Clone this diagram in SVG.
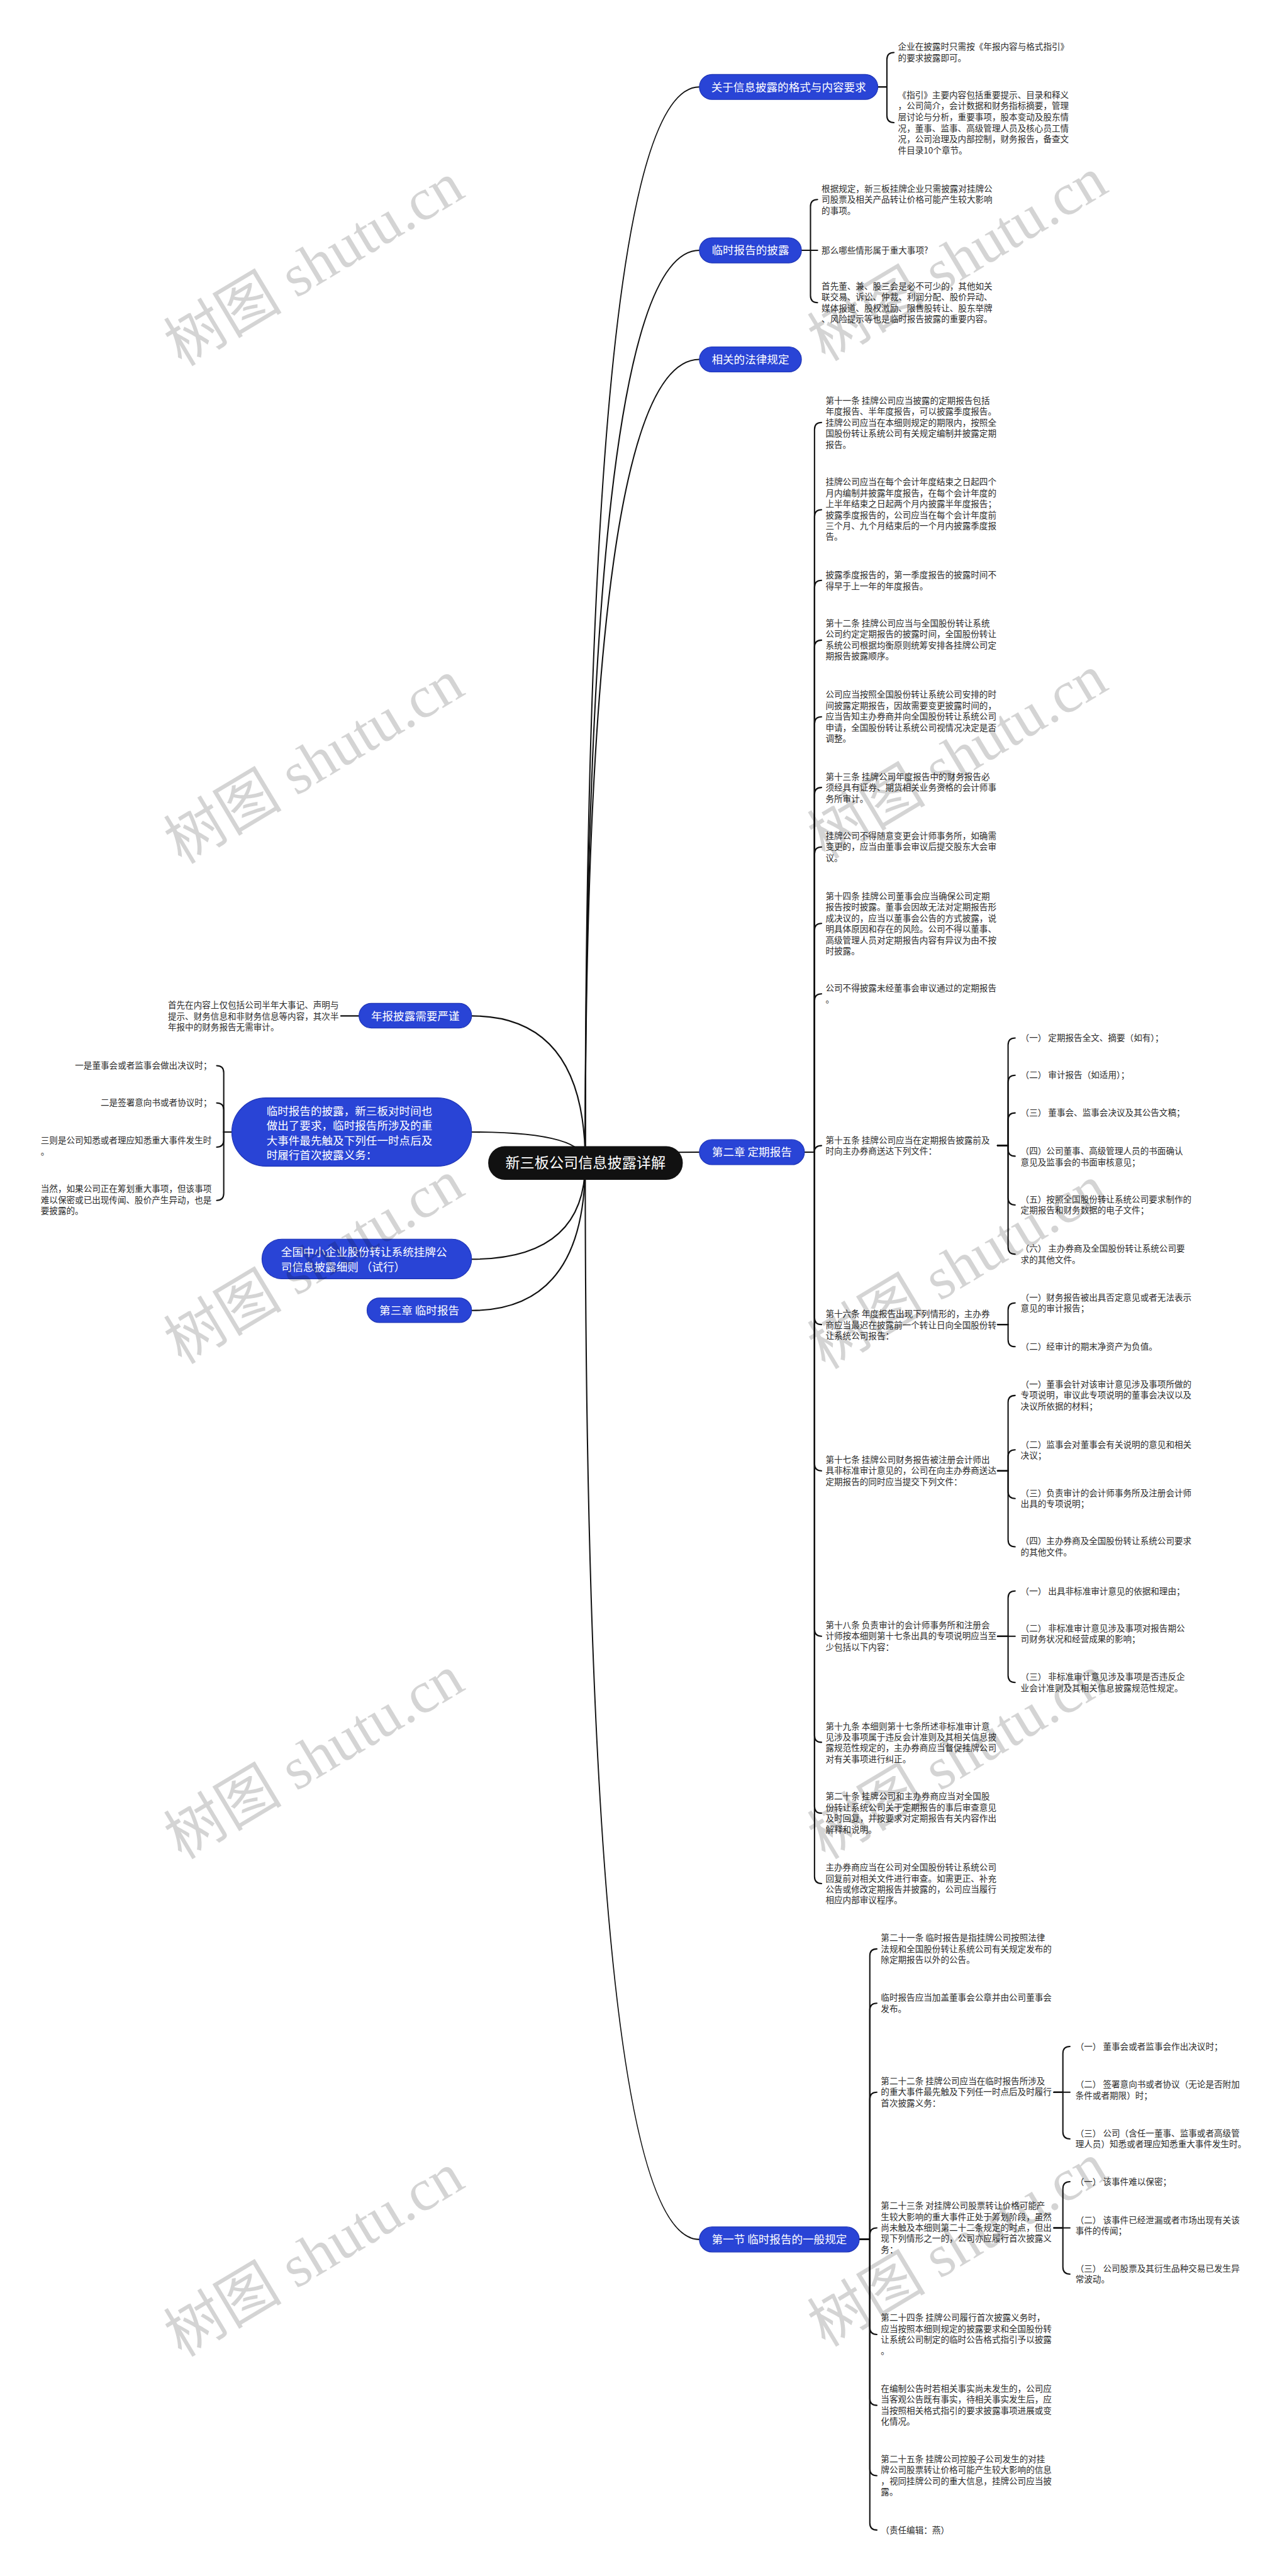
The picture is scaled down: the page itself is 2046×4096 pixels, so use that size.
<svg xmlns="http://www.w3.org/2000/svg" width="2046" height="4096" viewBox="0 0 2046 4096">
<style>
.bg{fill:#ffffff}
.ln{fill:none;stroke:#111111;stroke-width:2.6;stroke-linecap:round}
.nb{fill:#2944D6;stroke:#1D33B5;stroke-width:1.5}
.nc{fill:#111111}
.tn{font-family:"Noto Sans CJK SC","Noto Sans",sans-serif;font-size:22px;fill:#ffffff}
.tc{font-family:"Noto Sans CJK SC","Noto Sans",sans-serif;font-size:29px;fill:#ffffff}
.t{font-family:"Noto Sans CJK SC","Noto Sans",sans-serif;font-size:17px;fill:#2b2b2b}
.wm{font-family:"Liberation Serif","Noto Sans CJK SC",serif;font-size:118px;fill:#000000;fill-opacity:0.17}
</style>
<rect class="bg" x="0" y="0" width="2046" height="4096"/>
<g transform="scale(0.7993)">
<g id="connectors">
<path class="ln" d="M1164 2313 Q1164 173 1391 173"/>
<path class="ln" d="M1164 2313 Q1164 498 1391 498"/>
<path class="ln" d="M1164 2313 Q1164 715 1391 715"/>
<path class="ln" d="M1164 2313 Q1164 2292 1391 2292"/>
<path class="ln" d="M1164 2313 Q1164 4455 1391 4455"/>
<path class="ln" d="M1164 2313 Q1164 2021 938 2021"/>
<path class="ln" d="M1164 2313 Q1164 2252 938 2252"/>
<path class="ln" d="M1164 2313 Q1164 2505 938 2505"/>
<path class="ln" d="M1164 2313 Q1164 2607 938 2607"/>
<path class="ln" d="M1746 173 H1764 V118.5 Q1764 104.5 1778 104.5"/>
<path class="ln" d="M1746 173 H1764 V230 Q1764 244 1778 244"/>
<path class="ln" d="M1594 498 H1612 V411 Q1612 397 1626 397"/>
<path class="ln" d="M1594 498 H1626"/>
<path class="ln" d="M1594 498 H1612 V588 Q1612 602 1626 602"/>
<path class="ln" d="M1600 2292 H1620 V854.5 Q1620 840.5 1634 840.5"/>
<path class="ln" d="M1600 2292 H1620 V1028 Q1620 1014 1634 1014"/>
<path class="ln" d="M1600 2292 H1620 V1168.5 Q1620 1154.5 1634 1154.5"/>
<path class="ln" d="M1600 2292 H1620 V1287.5 Q1620 1273.5 1634 1273.5"/>
<path class="ln" d="M1600 2292 H1620 V1440 Q1620 1426 1634 1426"/>
<path class="ln" d="M1600 2292 H1620 V1580.5 Q1620 1566.5 1634 1566.5"/>
<path class="ln" d="M1600 2292 H1620 V1699 Q1620 1685 1634 1685"/>
<path class="ln" d="M1600 2292 H1620 V1851 Q1620 1837 1634 1837"/>
<path class="ln" d="M1600 2292 H1620 V1991 Q1620 1977 1634 1977"/>
<path class="ln" d="M1600 2292 H1620 V2291 Q1620 2279 1634 2279"/>
<path class="ln" d="M1600 2292 H1620 V2621 Q1620 2635 1634 2635"/>
<path class="ln" d="M1600 2292 H1620 V2912 Q1620 2926 1634 2926"/>
<path class="ln" d="M1600 2292 H1620 V3241 Q1620 3255 1634 3255"/>
<path class="ln" d="M1600 2292 H1620 V3452 Q1620 3466 1634 3466"/>
<path class="ln" d="M1600 2292 H1620 V3593 Q1620 3607 1634 3607"/>
<path class="ln" d="M1600 2292 H1620 V3733 Q1620 3747 1634 3747"/>
<path class="ln" d="M1984 2279 H2005 V2079 Q2005 2065 2019 2065"/>
<path class="ln" d="M1984 2279 H2005 V2153 Q2005 2139 2019 2139"/>
<path class="ln" d="M1984 2279 H2005 V2228 Q2005 2214 2019 2214"/>
<path class="ln" d="M1984 2279 H2005 V2286 Q2005 2300 2019 2300"/>
<path class="ln" d="M1984 2279 H2005 V2383 Q2005 2397 2019 2397"/>
<path class="ln" d="M1984 2279 H2005 V2481 Q2005 2495 2019 2495"/>
<path class="ln" d="M1984 2635 H2005 V2606 Q2005 2592 2019 2592"/>
<path class="ln" d="M1984 2635 H2005 V2665 Q2005 2679 2019 2679"/>
<path class="ln" d="M1984 2926 H2005 V2790 Q2005 2776 2019 2776"/>
<path class="ln" d="M1984 2926 H2005 V2898 Q2005 2884 2019 2884"/>
<path class="ln" d="M1984 2926 H2005 V2967 Q2005 2981 2019 2981"/>
<path class="ln" d="M1984 2926 H2005 V3063 Q2005 3077 2019 3077"/>
<path class="ln" d="M1984 3255 H2005 V3179 Q2005 3165 2019 3165"/>
<path class="ln" d="M1984 3255 H2019"/>
<path class="ln" d="M1984 3255 H2005 V3333 Q2005 3347 2019 3347"/>
<path class="ln" d="M1709 4455 H1730 V3891 Q1730 3877 1744 3877"/>
<path class="ln" d="M1709 4455 H1730 V3999 Q1730 3985 1744 3985"/>
<path class="ln" d="M1709 4455 H1730 V4176 Q1730 4162 1744 4162"/>
<path class="ln" d="M1709 4455 H1730 V4446 Q1730 4432 1744 4432"/>
<path class="ln" d="M1709 4455 H1730 V4630 Q1730 4644 1744 4644"/>
<path class="ln" d="M1709 4455 H1730 V4771 Q1730 4785 1744 4785"/>
<path class="ln" d="M1709 4455 H1730 V4911 Q1730 4925 1744 4925"/>
<path class="ln" d="M1709 4455 H1730 V5019 Q1730 5033 1744 5033"/>
<path class="ln" d="M2096 4162 H2114 V4085 Q2114 4071 2128 4071"/>
<path class="ln" d="M2096 4162 H2128"/>
<path class="ln" d="M2096 4162 H2114 V4241 Q2114 4255 2128 4255"/>
<path class="ln" d="M2096 4432 H2114 V4354 Q2114 4340 2128 4340"/>
<path class="ln" d="M2096 4432 H2128"/>
<path class="ln" d="M2096 4432 H2114 V4510 Q2114 4524 2128 4524"/>
<path class="ln" d="M714 2021 H678"/>
<path class="ln" d="M461 2252 H445 V2134 Q445 2120 431 2120"/>
<path class="ln" d="M461 2252 H445 V2208 Q445 2194 431 2194"/>
<path class="ln" d="M461 2252 H445 V2268 Q445 2282 431 2282"/>
<path class="ln" d="M461 2252 H445 V2374 Q445 2388 431 2388"/>
</g>
<g id="center">
<rect class="nc" x="971" y="2280" width="387" height="67" rx="33"/>
<text class="tc" x="1164.5" y="2323" text-anchor="middle">新三板公司信息披露详解</text>
</g>
<g id="n-format">
<rect class="nb" x="1391" y="148" width="355" height="50" rx="25"/>
<text class="tn" x="1568.5" y="181" text-anchor="middle">关于信息披露的格式与内容要求</text>
</g>
<g id="n-format-1"><text class="t" x="1786" y="99"><tspan x="1786">企业在披露时只需按《年报内容与格式指引》</tspan><tspan x="1786" dy="22">的要求披露即可。</tspan></text></g>
<g id="n-format-2"><text class="t" x="1786" y="195"><tspan x="1786">《指引》主要内容包括重要提示、目录和释义</tspan><tspan x="1786" dy="22">，公司简介，会计数据和财务指标摘要，管理</tspan><tspan x="1786" dy="22">层讨论与分析，重要事项，股本变动及股东情</tspan><tspan x="1786" dy="22">况，董事、监事、高级管理人员及核心员工情</tspan><tspan x="1786" dy="22">况，公司治理及内部控制，财务报告，备查文</tspan><tspan x="1786" dy="22">件目录10个章节。</tspan></text></g>
<g id="n-temp">
<rect class="nb" x="1391" y="473" width="203" height="50" rx="25"/>
<text class="tn" x="1492.5" y="506" text-anchor="middle">临时报告的披露</text>
</g>
<g id="n-temp-1"><text class="t" x="1634" y="381"><tspan x="1634">根据规定，新三板挂牌企业只需披露对挂牌公</tspan><tspan x="1634" dy="22">司股票及相关产品转让价格可能产生较大影响</tspan><tspan x="1634" dy="22">的事项。</tspan></text></g>
<g id="n-temp-2"><text class="t" x="1634" y="504">那么哪些情形属于重大事项?</text></g>
<g id="n-temp-3"><text class="t" x="1634" y="575"><tspan x="1634">首先董、兼、股三会是必不可少的，其他如关</tspan><tspan x="1634" dy="22">联交易、诉讼、仲裁、利润分配、股价异动、</tspan><tspan x="1634" dy="22">媒体报道、股权激励、限售股转让、股东举牌</tspan><tspan x="1634" dy="22">、风险提示等也是临时报告披露的重要内容。</tspan></text></g>
<g id="n-law">
<rect class="nb" x="1391" y="690" width="203" height="50" rx="25"/>
<text class="tn" x="1492.5" y="723" text-anchor="middle">相关的法律规定</text>
</g>
<g id="n-ch2">
<rect class="nb" x="1391" y="2267" width="209" height="50" rx="25"/>
<text class="tn" x="1495.5" y="2300" text-anchor="middle">第二章 定期报告</text>
</g>
<g id="t1"><text class="t" x="1642" y="803"><tspan x="1642">第十一条 挂牌公司应当披露的定期报告包括</tspan><tspan x="1642" dy="21.8">年度报告、半年度报告，可以披露季度报告。</tspan><tspan x="1642" dy="21.8">挂牌公司应当在本细则规定的期限内，按照全</tspan><tspan x="1642" dy="21.8">国股份转让系统公司有关规定编制并披露定期</tspan><tspan x="1642" dy="21.8">报告。</tspan></text></g>
<g id="t2"><text class="t" x="1642" y="965"><tspan x="1642">挂牌公司应当在每个会计年度结束之日起四个</tspan><tspan x="1642" dy="21.8">月内编制并披露年度报告，在每个会计年度的</tspan><tspan x="1642" dy="21.8">上半年结束之日起两个月内披露半年度报告；</tspan><tspan x="1642" dy="21.8">披露季度报告的，公司应当在每个会计年度前</tspan><tspan x="1642" dy="21.8">三个月、九个月结束后的一个月内披露季度报</tspan><tspan x="1642" dy="21.8">告。</tspan></text></g>
<g id="t3"><text class="t" x="1642" y="1150"><tspan x="1642">披露季度报告的，第一季度报告的披露时间不</tspan><tspan x="1642" dy="21.8">得早于上一年的年度报告。</tspan></text></g>
<g id="t4"><text class="t" x="1642" y="1246"><tspan x="1642">第十二条 挂牌公司应当与全国股份转让系统</tspan><tspan x="1642" dy="21.8">公司约定定期报告的披露时间，全国股份转让</tspan><tspan x="1642" dy="21.8">系统公司根据均衡原则统筹安排各挂牌公司定</tspan><tspan x="1642" dy="21.8">期报告披露顺序。</tspan></text></g>
<g id="t5"><text class="t" x="1642" y="1388"><tspan x="1642">公司应当按照全国股份转让系统公司安排的时</tspan><tspan x="1642" dy="21.8">间披露定期报告，因故需要变更披露时间的，</tspan><tspan x="1642" dy="21.8">应当告知主办券商并向全国股份转让系统公司</tspan><tspan x="1642" dy="21.8">申请，全国股份转让系统公司视情况决定是否</tspan><tspan x="1642" dy="21.8">调整。</tspan></text></g>
<g id="t6"><text class="t" x="1642" y="1551"><tspan x="1642">第十三条 挂牌公司年度报告中的财务报告必</tspan><tspan x="1642" dy="21.8">须经具有证券、期货相关业务资格的会计师事</tspan><tspan x="1642" dy="21.8">务所审计。</tspan></text></g>
<g id="t7"><text class="t" x="1642" y="1669"><tspan x="1642">挂牌公司不得随意变更会计师事务所，如确需</tspan><tspan x="1642" dy="21.8">变更的，应当由董事会审议后提交股东大会审</tspan><tspan x="1642" dy="21.8">议。</tspan></text></g>
<g id="t8"><text class="t" x="1642" y="1789"><tspan x="1642">第十四条 挂牌公司董事会应当确保公司定期</tspan><tspan x="1642" dy="21.8">报告按时披露。董事会因故无法对定期报告形</tspan><tspan x="1642" dy="21.8">成决议的，应当以董事会公告的方式披露，说</tspan><tspan x="1642" dy="21.8">明具体原因和存在的风险。公司不得以董事、</tspan><tspan x="1642" dy="21.8">高级管理人员对定期报告内容有异议为由不按</tspan><tspan x="1642" dy="21.8">时披露。</tspan></text></g>
<g id="t9"><text class="t" x="1642" y="1972"><tspan x="1642">公司不得披露未经董事会审议通过的定期报告</tspan><tspan x="1642" dy="21.8">。</tspan></text></g>
<g id="t10"><text class="t" x="1642" y="2274"><tspan x="1642">第十五条 挂牌公司应当在定期报告披露前及</tspan><tspan x="1642" dy="21.8">时向主办券商送达下列文件：</tspan></text></g>
<g id="s1"><text class="t" x="2030" y="2071">（一） 定期报告全文、摘要（如有）；</text></g>
<g id="s2"><text class="t" x="2030" y="2145">（二） 审计报告（如适用）；</text></g>
<g id="s3"><text class="t" x="2030" y="2220">（三） 董事会、监事会决议及其公告文稿；</text></g>
<g id="s4"><text class="t" x="2030" y="2296"><tspan x="2030">（四）公司董事、高级管理人员的书面确认</tspan><tspan x="2030" dy="21.8">意见及监事会的书面审核意见；</tspan></text></g>
<g id="s5"><text class="t" x="2030" y="2392"><tspan x="2030">（五）按照全国股份转让系统公司要求制作的</tspan><tspan x="2030" dy="21.8">定期报告和财务数据的电子文件；</tspan></text></g>
<g id="s6"><text class="t" x="2030" y="2490"><tspan x="2030">（六） 主办券商及全国股份转让系统公司要</tspan><tspan x="2030" dy="21.8">求的其他文件。</tspan></text></g>
<g id="t11"><text class="t" x="1642" y="2620"><tspan x="1642">第十六条 年度报告出现下列情形的，主办券</tspan><tspan x="1642" dy="21.8">商应当最迟在披露前一个转让日向全国股份转</tspan><tspan x="1642" dy="21.8">让系统公司报告：</tspan></text></g>
<g id="u1"><text class="t" x="2030" y="2587"><tspan x="2030">（一）财务报告被出具否定意见或者无法表示</tspan><tspan x="2030" dy="21.8">意见的审计报告；</tspan></text></g>
<g id="u2"><text class="t" x="2030" y="2685">（二）经审计的期末净资产为负值。</text></g>
<g id="t12"><text class="t" x="1642" y="2910"><tspan x="1642">第十七条 挂牌公司财务报告被注册会计师出</tspan><tspan x="1642" dy="21.8">具非标准审计意见的，公司在向主办券商送达</tspan><tspan x="1642" dy="21.8">定期报告的同时应当提交下列文件：</tspan></text></g>
<g id="v1"><text class="t" x="2030" y="2760"><tspan x="2030">（一）董事会针对该审计意见涉及事项所做的</tspan><tspan x="2030" dy="21.8">专项说明，审议此专项说明的董事会决议以及</tspan><tspan x="2030" dy="21.8">决议所依据的材料；</tspan></text></g>
<g id="v2"><text class="t" x="2030" y="2880"><tspan x="2030">（二）监事会对董事会有关说明的意见和相关</tspan><tspan x="2030" dy="21.8">决议；</tspan></text></g>
<g id="v3"><text class="t" x="2030" y="2976"><tspan x="2030">（三）负责审计的会计师事务所及注册会计师</tspan><tspan x="2030" dy="21.8">出具的专项说明；</tspan></text></g>
<g id="v4"><text class="t" x="2030" y="3072"><tspan x="2030">（四）主办券商及全国股份转让系统公司要求</tspan><tspan x="2030" dy="21.8">的其他文件。</tspan></text></g>
<g id="t13"><text class="t" x="1642" y="3239"><tspan x="1642">第十八条 负责审计的会计师事务所和注册会</tspan><tspan x="1642" dy="21.8">计师按本细则第十七条出具的专项说明应当至</tspan><tspan x="1642" dy="21.8">少包括以下内容：</tspan></text></g>
<g id="w1"><text class="t" x="2030" y="3171">（一） 出具非标准审计意见的依据和理由；</text></g>
<g id="w2"><text class="t" x="2030" y="3245"><tspan x="2030">（二） 非标准审计意见涉及事项对报告期公</tspan><tspan x="2030" dy="21.8">司财务状况和经营成果的影响；</tspan></text></g>
<g id="w3"><text class="t" x="2030" y="3342"><tspan x="2030">（三） 非标准审计意见涉及事项是否违反企</tspan><tspan x="2030" dy="21.8">业会计准则及其相关信息披露规范性规定。</tspan></text></g>
<g id="t14"><text class="t" x="1642" y="3440"><tspan x="1642">第十九条 本细则第十七条所述非标准审计意</tspan><tspan x="1642" dy="21.8">见涉及事项属于违反会计准则及其相关信息披</tspan><tspan x="1642" dy="21.8">露规范性规定的，主办券商应当督促挂牌公司</tspan><tspan x="1642" dy="21.8">对有关事项进行纠正。</tspan></text></g>
<g id="t15"><text class="t" x="1642" y="3580"><tspan x="1642">第二十条 挂牌公司和主办券商应当对全国股</tspan><tspan x="1642" dy="21.8">份转让系统公司关于定期报告的事后审查意见</tspan><tspan x="1642" dy="21.8">及时回复，并按要求对定期报告有关内容作出</tspan><tspan x="1642" dy="21.8">解释和说明。</tspan></text></g>
<g id="t16"><text class="t" x="1642" y="3721"><tspan x="1642">主办券商应当在公司对全国股份转让系统公司</tspan><tspan x="1642" dy="21.8">回复前对相关文件进行审查。如需更正、补充</tspan><tspan x="1642" dy="21.8">公告或修改定期报告并披露的，公司应当履行</tspan><tspan x="1642" dy="21.8">相应内部审议程序。</tspan></text></g>
<g id="n-sec1">
<rect class="nb" x="1391" y="4430" width="318" height="50" rx="25"/>
<text class="tn" x="1550" y="4463" text-anchor="middle">第一节 临时报告的一般规定</text>
</g>
<g id="x1"><text class="t" x="1752" y="3861"><tspan x="1752">第二十一条 临时报告是指挂牌公司按照法律</tspan><tspan x="1752" dy="21.8">法规和全国股份转让系统公司有关规定发布的</tspan><tspan x="1752" dy="21.8">除定期报告以外的公告。</tspan></text></g>
<g id="x2"><text class="t" x="1752" y="3980"><tspan x="1752">临时报告应当加盖董事会公章并由公司董事会</tspan><tspan x="1752" dy="21.8">发布。</tspan></text></g>
<g id="x3"><text class="t" x="1752" y="4146"><tspan x="1752">第二十二条 挂牌公司应当在临时报告所涉及</tspan><tspan x="1752" dy="21.8">的重大事件最先触及下列任一时点后及时履行</tspan><tspan x="1752" dy="21.8">首次披露义务：</tspan></text></g>
<g id="y1"><text class="t" x="2139" y="4077">（一） 董事会或者监事会作出决议时；</text></g>
<g id="y2"><text class="t" x="2139" y="4153"><tspan x="2139">（二） 签署意向书或者协议（无论是否附加</tspan><tspan x="2139" dy="21.8">条件或者期限）时；</tspan></text></g>
<g id="y3"><text class="t" x="2139" y="4250"><tspan x="2139">（三） 公司（含任一董事、监事或者高级管</tspan><tspan x="2139" dy="21.8">理人员）知悉或者理应知悉重大事件发生时。</tspan></text></g>
<g id="x4"><text class="t" x="1752" y="4394"><tspan x="1752">第二十三条 对挂牌公司股票转让价格可能产</tspan><tspan x="1752" dy="21.8">生较大影响的重大事件正处于筹划阶段，虽然</tspan><tspan x="1752" dy="21.8">尚未触及本细则第二十二条规定的时点，但出</tspan><tspan x="1752" dy="21.8">现下列情形之一的，公司亦应履行首次披露义</tspan><tspan x="1752" dy="21.8">务：</tspan></text></g>
<g id="z1"><text class="t" x="2139" y="4346">（一） 该事件难以保密；</text></g>
<g id="z2"><text class="t" x="2139" y="4422"><tspan x="2139">（二） 该事件已经泄漏或者市场出现有关该</tspan><tspan x="2139" dy="21.8">事件的传闻；</tspan></text></g>
<g id="z3"><text class="t" x="2139" y="4519"><tspan x="2139">（三） 公司股票及其衍生品种交易已发生异</tspan><tspan x="2139" dy="21.8">常波动。</tspan></text></g>
<g id="x5"><text class="t" x="1752" y="4617"><tspan x="1752">第二十四条 挂牌公司履行首次披露义务时，</tspan><tspan x="1752" dy="21.8">应当按照本细则规定的披露要求和全国股份转</tspan><tspan x="1752" dy="21.8">让系统公司制定的临时公告格式指引予以披露</tspan><tspan x="1752" dy="21.8">。</tspan></text></g>
<g id="x6"><text class="t" x="1752" y="4758"><tspan x="1752">在编制公告时若相关事实尚未发生的，公司应</tspan><tspan x="1752" dy="21.8">当客观公告既有事实，待相关事实发生后，应</tspan><tspan x="1752" dy="21.8">当按照相关格式指引的要求披露事项进展或变</tspan><tspan x="1752" dy="21.8">化情况。</tspan></text></g>
<g id="x7"><text class="t" x="1752" y="4898"><tspan x="1752">第二十五条 挂牌公司控股子公司发生的对挂</tspan><tspan x="1752" dy="21.8">牌公司股票转让价格可能产生较大影响的信息</tspan><tspan x="1752" dy="21.8">，视同挂牌公司的重大信息，挂牌公司应当披</tspan><tspan x="1752" dy="21.8">露。</tspan></text></g>
<g id="x8"><text class="t" x="1752" y="5039">（责任编辑：燕）</text></g>
<g id="n-annual">
<rect class="nb" x="714" y="1996" width="224" height="49" rx="24.5"/>
<text class="tn" x="826" y="2029" text-anchor="middle">年报披露需要严谨</text>
</g>
<g id="n-annual-1"><text class="t" x="334" y="2006"><tspan x="334">首先在内容上仅包括公司半年大事记、声明与</tspan><tspan x="334" dy="21.8">提示、财务信息和非财务信息等内容，其次半</tspan><tspan x="334" dy="21.8">年报中的财务报告无需审计。</tspan></text></g>
<g id="n-tempreq">
<rect class="nb" x="461" y="2184" width="477" height="136" rx="68"/>
<text class="tn" x="530" y="2218"><tspan x="530">临时报告的披露，新三板对时间也</tspan><tspan x="530" dy="29.3">做出了要求，临时报告所涉及的重</tspan><tspan x="530" dy="29.3">大事件最先触及下列任一时点后及</tspan><tspan x="530" dy="29.3">时履行首次披露义务：</tspan></text>
</g>
<g id="l1"><text class="t" x="421" y="2126" text-anchor="end">一是董事会或者监事会做出决议时；</text></g>
<g id="l2"><text class="t" x="421" y="2200" text-anchor="end">二是签署意向书或者协议时；</text></g>
<g id="l3"><text class="t" x="81" y="2275"><tspan x="81">三则是公司知悉或者理应知悉重大事件发生时</tspan><tspan x="81" dy="21.8">。</tspan></text></g>
<g id="l4"><text class="t" x="81" y="2371"><tspan x="81">当然，如果公司正在筹划重大事项，但该事项</tspan><tspan x="81" dy="21.8">难以保密或已出现传闻、股价产生异动，也是</tspan><tspan x="81" dy="21.8">要披露的。</tspan></text></g>
<g id="n-rules">
<rect class="nb" x="521" y="2465" width="417" height="79" rx="39.5"/>
<text class="tn" x="559" y="2499"><tspan x="559">全国中小企业股份转让系统挂牌公</tspan><tspan x="559" dy="29">司信息披露细则 （试行）</tspan></text>
</g>
<g id="n-ch3">
<rect class="nb" x="730" y="2582" width="208" height="49" rx="24.5"/>
<text class="tn" x="834" y="2615" text-anchor="middle">第三章 临时报告</text>
</g>
<g id="watermarks">
<text class="wm" transform="translate(645 560) rotate(-31)" text-anchor="middle">树图 shutu.cn</text>
<text class="wm" transform="translate(1925 550) rotate(-31)" text-anchor="middle">树图 shutu.cn</text>
<text class="wm" transform="translate(645 1550) rotate(-31)" text-anchor="middle">树图 shutu.cn</text>
<text class="wm" transform="translate(1925 1540) rotate(-31)" text-anchor="middle">树图 shutu.cn</text>
<text class="wm" transform="translate(645 2545) rotate(-31)" text-anchor="middle">树图 shutu.cn</text>
<text class="wm" transform="translate(1925 2555) rotate(-31)" text-anchor="middle">树图 shutu.cn</text>
<text class="wm" transform="translate(645 3530) rotate(-31)" text-anchor="middle">树图 shutu.cn</text>
<text class="wm" transform="translate(1925 3530) rotate(-31)" text-anchor="middle">树图 shutu.cn</text>
<text class="wm" transform="translate(645 4520) rotate(-31)" text-anchor="middle">树图 shutu.cn</text>
<text class="wm" transform="translate(1925 4500) rotate(-31)" text-anchor="middle">树图 shutu.cn</text>
</g>
</g>
</svg>
